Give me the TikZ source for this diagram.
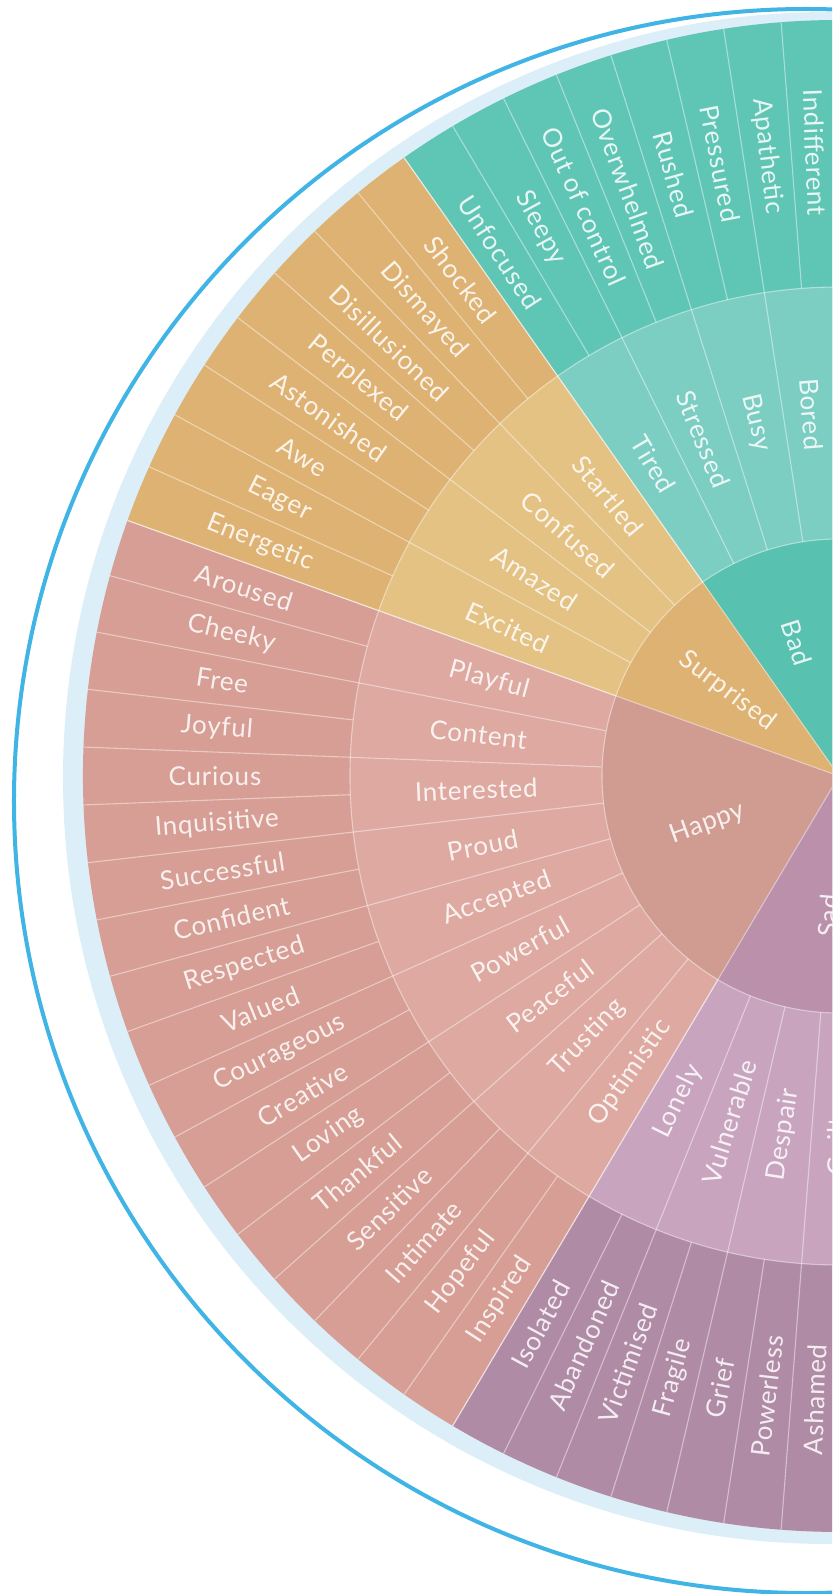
\documentclass[tikz,border=0pt]{standalone}
\usepackage{fontspec}
\setmainfont{Lato}[LetterSpace=3]
\definecolor{ringblue}{HTML}{3FB4E5}
\definecolor{halo}{HTML}{DCEEF7}
\definecolor{badout}{HTML}{5FC5B5}
\definecolor{badmid}{HTML}{7CCDC2}
\definecolor{badcore}{HTML}{58C1AF}
\definecolor{surout}{HTML}{DEB273}
\definecolor{surmid}{HTML}{E3C283}
\definecolor{surcore}{HTML}{DDB272}
\definecolor{hapout}{HTML}{D69E94}
\definecolor{hapmid}{HTML}{DDA9A1}
\definecolor{hapcore}{HTML}{D09C92}
\definecolor{sadout}{HTML}{B08BA5}
\definecolor{sadmid}{HTML}{C8A4BF}
\definecolor{sadcore}{HTML}{BA90AB}
\def\lf{4.390244}
\begin{document}
\begin{tikzpicture}[x=1pt,y=1pt,
  divider/.style={draw=white, draw opacity=0.45, line width=1.1pt},
  word/.style={text=white, text opacity=0.85, inner sep=0pt, font=\fontsize{26}{26}\selectfont}]
  \clip (-839,-818) rectangle (-7,776);
  \draw[color=ringblue, line width=4pt] (-33,-25) circle(792);
  \fill[halo] (-10,-2) circle(766);
  % the four visible families: outer, middle, core
  \foreach \a/\b/\co/\cm/\cc in {90/125.122/badout/badmid/badcore,
      125.122/160.244/surout/surmid/surcore,
      160.244/239.268/hapout/hapmid/hapcore,
      239.268/291.951/sadout/sadmid/sadcore} {
    \fill[\co] (0,0) -- (\a:756) arc[start angle=\a, end angle=\b, radius=756] -- cycle;
    \fill[\cm] (0,0) -- (\a:489) arc[start angle=\a, end angle=\b, radius=489] -- cycle;
    \fill[\cc] (0,0) -- (\a:237) arc[start angle=\a, end angle=\b, radius=237] -- cycle;
  }
  \draw[divider] (90:237) arc[start angle=90, end angle=292, radius=237];
  \draw[divider] (90:489) arc[start angle=90, end angle=292, radius=489];
  \foreach \k in {1,...,45}
    \draw[divider] ({90+\k*\lf}:489) -- ({90+\k*\lf}:756);
  \foreach \k in {1,...,22}
    \draw[divider] ({90+2*\k*\lf}:237) -- ({90+2*\k*\lf}:489);
  \foreach \a in {125.122,160.244,239.268}
    \draw[divider] (0,0) -- (\a:756);
  % outer words
  \foreach \w [count=\i] in {Indifferent,Apathetic,Pressured,Rushed,Overwhelmed,Out of control,Sleepy,Unfocused,
      Shocked,Dismayed,Disillusioned,Perplexed,Astonished,Awe,Eager,Energetic,
      Aroused,Cheeky,Free,Joyful,Curious,Inquisitive,Successful,Confident,Respected,Valued,
      Courageous,Creative,Loving,Thankful,Sensitive,Intimate,Hopeful,Inspired,
      Isolated,Abandoned,Victimised,Fragile,Grief,Powerless,Ashamed}
    \node[word, rotate={(\i-0.5)*\lf-90}] (leaf\i) at ({90+(\i-0.5)*\lf}:624) {\w};
  % middle words
  \foreach \w [count=\i] in {Bored,Busy,Stressed,Tired,Startled,Confused,Amazed,Excited,
      Playful,Content,Interested,Proud,Accepted,Powerful,Peaceful,Trusting,Optimistic,
      Lonely,Vulnerable,Despair,Guilty}
    \node[word, rotate={(2*\i-1)*\lf-90}] (mid\i) at ({90+(2*\i-1)*\lf}:363) {\w};
  % core words
  \foreach \w/\m in {Bad/4,Surprised/12,Happy/25,Sad/40}
    \node[word, rotate={\m*\lf-90}] (core\w) at ({90+\m*\lf}:140) {\w};
\end{tikzpicture}
\end{document}
